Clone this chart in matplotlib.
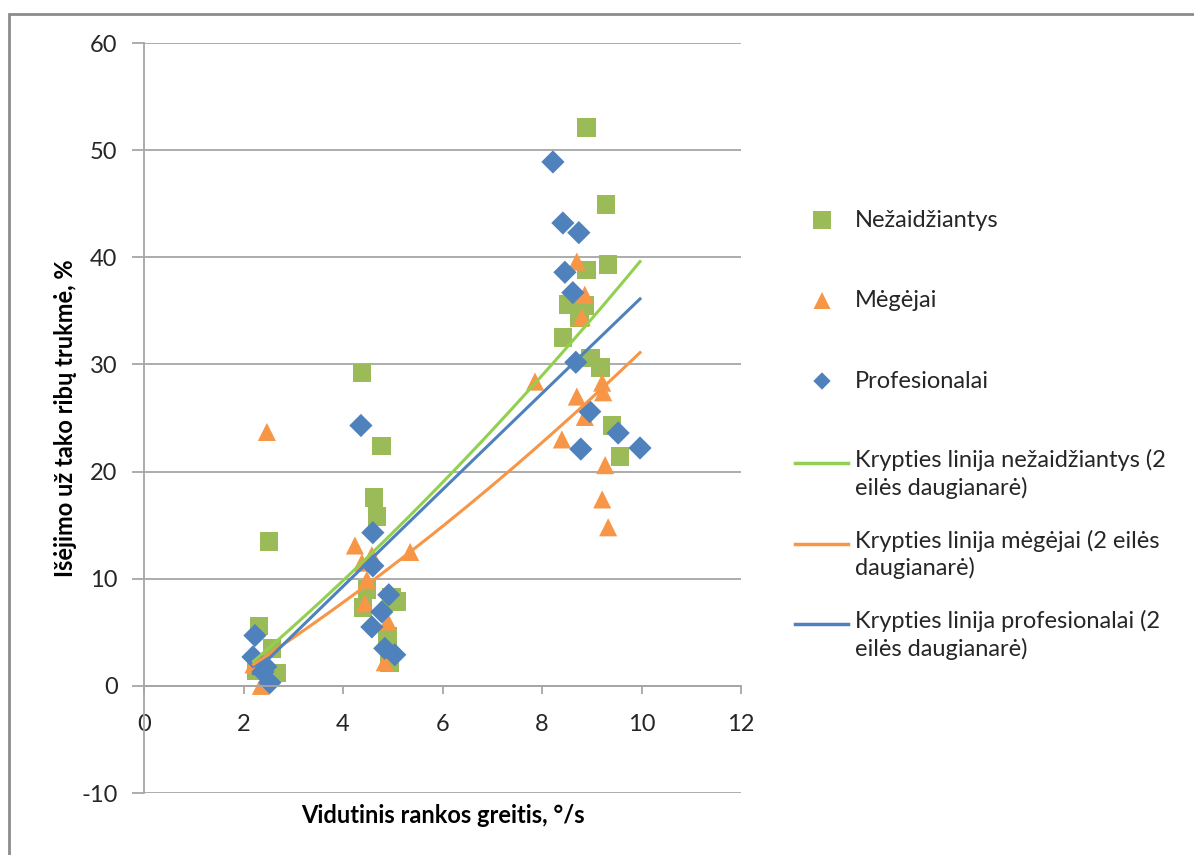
import numpy as np
import matplotlib.pyplot as plt
from matplotlib.patches import Rectangle

# Vidutinis rankos greitis (°/s) ir išėjimo už tako ribų trukmė (%) pagal grupes
nez_x = [2.31, 2.57, 2.67, 2.25, 2.51, 4.38, 4.78, 4.62, 4.68, 4.48, 4.98, 4.40,
         5.08, 4.90, 4.94, 8.90, 9.29, 9.33, 8.90, 8.52, 8.86, 8.76, 8.42, 8.98,
         9.17, 9.41, 9.57]
nez_y = [5.6, 3.5, 1.2, 1.4, 13.5, 29.2, 22.4, 17.6, 15.8, 9.0, 8.3, 7.3,
         7.9, 4.6, 2.2, 52.1, 44.9, 39.3, 38.8, 35.6, 35.5, 34.4, 32.5, 30.6,
         29.7, 24.3, 21.4]

meg_x = [2.47, 2.20, 2.35, 2.50, 4.24, 5.35, 4.58, 4.38, 4.48, 4.44, 4.90, 4.84,
         7.86, 8.70, 8.86, 8.80, 9.21, 9.23, 8.70, 8.86, 8.40, 9.27, 9.21, 9.33]
meg_y = [23.7, 2.0, 0.0, 1.0, 13.1, 12.5, 12.2, 11.5, 9.9, 7.7, 6.0, 2.2,
         28.4, 39.6, 36.5, 34.4, 28.3, 27.4, 27.0, 25.1, 23.0, 20.6, 17.4, 14.8]

pro_x = [2.23, 2.19, 2.39, 2.53, 2.45, 4.36, 4.60, 4.60, 4.92, 4.78, 4.58, 4.84,
         5.04, 8.22, 8.42, 8.74, 8.46, 8.62, 8.68, 8.96, 9.53, 8.78, 9.97]
pro_y = [4.7, 2.7, 1.3, 0.3, 1.8, 24.3, 14.3, 11.2, 8.5, 6.9, 5.5, 3.5,
         2.9, 48.9, 43.2, 42.3, 38.6, 36.7, 30.2, 25.6, 23.6, 22.1, 22.2]

# krypties linijų (2 eilės daugianarių) koeficientai: a*x^2 + b*x + c
nez_trend = [0.1028, 3.552, -6.031]
meg_trend = [0.0892, 2.660, -4.283]
pro_trend = [-0.004, 4.55, -8.85]
trend_range = [2.2, 9.97]

group_names = ['Nežaidžiantys', 'Mėgėjai', 'Profesionalai']
trend_names = ['Krypties linija nežaidžiantys (2\neilės daugianarė)',
               'Krypties linija mėgėjai (2 eilės\ndaugianarė)',
               'Krypties linija profesionalai (2\neilės daugianarė)']

plt.rcParams['font.family'] = ['Lato', 'DejaVu Sans']
plt.rcParams['axes.unicode_minus'] = False

marker_col = ['#9bbb59', '#f79646', '#4f81bd']
line_col = ['#92d050', '#f79646', '#4f81bd']
markers = ['s', '^', 'D']
msize = [180, 170, 140]
leg_size = [150, 150, 78]
grid_col = '#a6a6a6'
text_col = '#262626'

fig = plt.figure(figsize=(11.94, 8.55), dpi=100)
ax = fig.add_axes([144 / 1194, 62 / 855, 597 / 1194, 750 / 855])

xs = [nez_x, meg_x, pro_x]
ys = [nez_y, meg_y, pro_y]
trends = [nez_trend, meg_trend, pro_trend]

for x, y, c, m, s in zip(xs, ys, marker_col, markers, msize):
    ax.scatter(x, y, s=s, marker=m, color=c, edgecolors='none', zorder=2)

xx = np.linspace(trend_range[0], trend_range[1], 100)
for k, c in zip(trends, line_col):
    ax.plot(xx, np.polyval(k, xx), color=c, lw=2.2, zorder=3)

ax.set_xlim(0, 12)
ax.set_ylim(-10, 60)
ax.set_xticks(range(0, 13, 2))
ax.set_yticks(range(-10, 61, 10))
ax.grid(axis='y', color=grid_col, lw=1.3)
ax.set_axisbelow(True)
for side in ['top', 'right']:
    ax.spines[side].set_visible(False)
ax.spines['bottom'].set_position(('data', 0))
for side in ['left', 'bottom']:
    ax.spines[side].set_color(grid_col)
    ax.spines[side].set_linewidth(1.3)
ax.tick_params(axis='y', length=9, width=1.3, color=grid_col, pad=10,
               labelsize=17, labelcolor=text_col)
ax.tick_params(axis='x', length=6, width=1.3, color=grid_col, pad=14,
               labelsize=17, labelcolor=text_col)

ax.set_xlabel('Vidutinis rankos greitis, °/s', fontsize=17, fontweight='bold',
              color='black', labelpad=0)
ax.xaxis.set_label_coords(0.5, -0.014)
ax.set_ylabel('Išėjimo už tako ribų trukmė, %', fontsize=17, fontweight='bold',
              color='black')
ax.yaxis.set_label_coords(-0.113, 0.5)

# legenda dešinėje
lg = fig.add_axes([0, 0, 1, 1])
lg.set_xlim(0, 1194)
lg.set_ylim(855, 0)
lg.axis('off')
for i in range(3):
    yy = 220 + i * 80.5
    lg.scatter([822], [yy], s=leg_size[i], marker=markers[i],
               color=marker_col[i], edgecolors='none')
    lg.text(855, yy, group_names[i], fontsize=17, color=text_col, va='center')
for i in range(3):
    yy = 463 + i * 80.5
    lg.plot([795, 848], [yy, yy], color=line_col[i], lw=2.5)
    lg.text(855, yy - 14, trend_names[i], fontsize=17, color=text_col,
            va='top', linespacing=1.3)

fig.add_artist(Rectangle((9 / 1194, -0.1), 1.2, 0.1 + 841 / 855, fill=False,
                         edgecolor='#8c8c8c', lw=2, transform=fig.transFigure))

fig.savefig('out.png', dpi=100, facecolor='white')
